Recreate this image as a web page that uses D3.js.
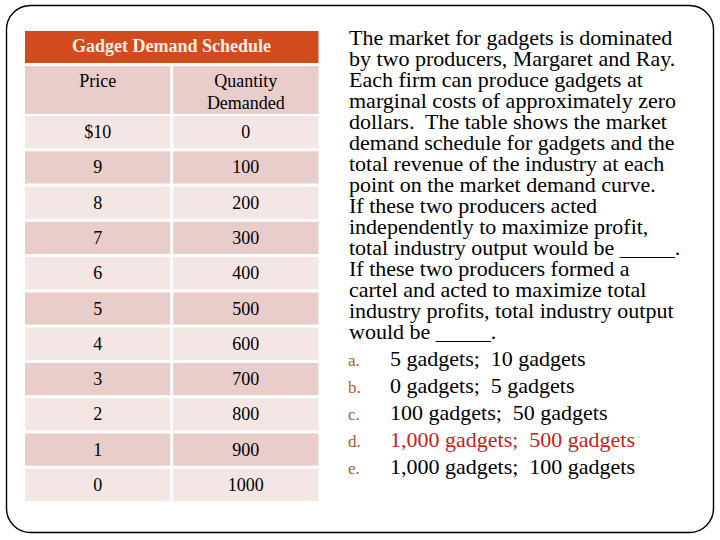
<!DOCTYPE html>
<html><head><meta charset="utf-8">
<script src="https://cdn.jsdelivr.net/npm/d3@7"></script>
<style>html,body{margin:0;padding:0;background:#fff}svg{display:block}text{white-space:pre}</style>
</head><body>
<script>
const title = "Gadget Demand Schedule";
const colHeaders = [["Price"], ["Quantity", "Demanded"]];
const prices = ["$10", "9", "8", "7", "6", "5", "4", "3", "2", "1", "0"];
const quantities = [0, 100, 200, 300, 400, 500, 600, 700, 800, 900, 1000];
const questionLines = [
  "The market for gadgets is dominated",
  "by two producers, Margaret and Ray.",
  "Each firm can produce gadgets at",
  "marginal costs of approximately zero",
  "dollars.  The table shows the market",
  "demand schedule for gadgets and the",
  "total revenue of the industry at each",
  "point on the market demand curve.",
  "If these two producers acted",
  "independently to maximize profit,",
  "total industry output would be _____.",
  "If these two producers formed a",
  "cartel and acted to maximize total",
  "industry profits, total industry output",
  "would be _____."
];
const optionLetters = ["a.", "b.", "c.", "d.", "e."];
const optionTexts = [
  "5 gadgets;  10 gadgets",
  "0 gadgets;  5 gadgets",
  "100 gadgets;  50 gadgets",
  "1,000 gadgets;  500 gadgets",
  "1,000 gadgets;  100 gadgets"
];
const correctOption = 3;

const W = 720, H = 540;
const svg = d3.select("body").append("svg").attr("width", W).attr("height", H);
const serif = "'Liberation Serif', 'Times New Roman', serif";

// frame
svg.append("rect").attr("x", 6.5).attr("y", 5.5).attr("width", 707).attr("height", 527)
  .attr("rx", 24).attr("ry", 24).attr("fill", "#fff").attr("stroke", "#000").attr("stroke-width", 1.4);

// table scales
const xCol = d3.scaleBand().domain([0, 1]).range([25, 318.5]).paddingInner(0.02);
const yRow = d3.scaleBand().domain(d3.range(prices.length)).range([116, 501]).paddingInner(0.086);
const dark = "#e9cdcb", light = "#f4e6e5";

// title bar
svg.append("rect").attr("x", 25).attr("y", 31).attr("width", 293.5).attr("height", 32).attr("fill", "#d24b1c");
svg.append("text").attr("x", 171.5).attr("y", 51.5).attr("text-anchor", "middle")
  .attr("font-family", serif).attr("font-weight", "bold").attr("font-size", 18)
  .attr("fill", "#fbf0e4").text(title);

// column header row
colHeaders.forEach((lines, c) => {
  svg.append("rect").attr("x", xCol(c)).attr("y", 66).attr("width", xCol.bandwidth()).attr("height", 48).attr("fill", dark);
  lines.forEach((t, i) => {
    svg.append("text").attr("x", xCol(c) + xCol.bandwidth() / 2).attr("y", 87 + i * 21.5)
      .attr("text-anchor", "middle").attr("font-family", serif).attr("font-size", 18).attr("fill", "#000").text(t);
  });
});

// data rows
const rows = svg.append("g").selectAll("g").data(prices.map((p, i) => ({ p, q: quantities[i], i }))).join("g");
rows.each(function (d) {
  const g = d3.select(this);
  const fill = d.i % 2 === 0 ? light : dark;
  [d.p, String(d.q)].forEach((t, c) => {
    g.append("rect").attr("x", xCol(c)).attr("y", yRow(d.i)).attr("width", xCol.bandwidth())
      .attr("height", yRow.bandwidth()).attr("fill", fill);
    g.append("text").attr("x", xCol(c) + xCol.bandwidth() / 2).attr("y", yRow(d.i) + yRow.bandwidth() / 2 + 6)
      .attr("text-anchor", "middle").attr("font-family", serif).attr("font-size", 18).attr("fill", "#000").text(t);
  });
});

// question text
const yLine = d3.scaleLinear().domain([0, 1]).range([45, 66]);
svg.append("g").selectAll("text").data(questionLines).join("text")
  .attr("x", 349).attr("y", (d, i) => yLine(i))
  .attr("font-family", serif).attr("font-size", 22).attr("fill", "#000").text(d => d);

// options
const yOpt = d3.scaleLinear().domain([0, 1]).range([366, 393]);
const opts = svg.append("g").selectAll("g").data(optionTexts.map((t, i) => ({ t, l: optionLetters[i], i }))).join("g");
opts.append("text").attr("x", 348).attr("y", (d) => yOpt(d.i)).attr("font-family", serif).attr("font-size", 17)
  .attr("fill", "#b4562f").text(d => d.l);
opts.append("text").attr("x", 390).attr("y", (d) => yOpt(d.i)).attr("font-family", serif).attr("font-size", 22)
  .attr("fill", d => d.i === correctOption ? "#c8201c" : "#000").text(d => d.t);
</script>
</body></html>
